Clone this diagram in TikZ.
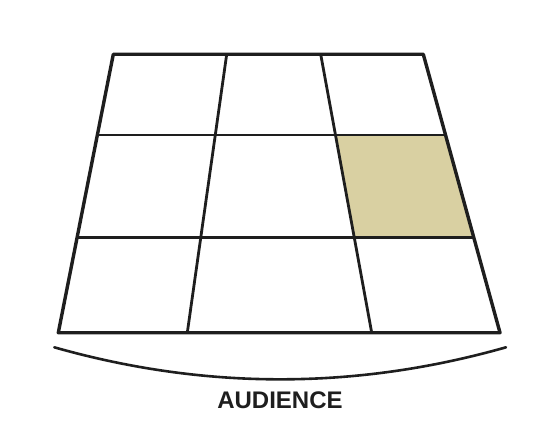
\documentclass[tikz,border=0pt]{standalone}
\usepackage{fontspec}
\setmainfont{Liberation Sans}
\usetikzlibrary{calc}
\definecolor{cellfill}{HTML}{D9D0A2}
\definecolor{ink}{HTML}{1E1E1E}
\tikzset{
  outer/.style={draw=ink, line width=3.4pt, line join=round},
  inner/.style={draw=ink, line width=2.8pt},
  arcline/.style={draw=ink, line width=2.6pt, line cap=round},
  label/.style={font=\bfseries\fontsize{24}{28}\selectfont, text=ink}
}
\begin{document}
\begin{tikzpicture}[x=1pt,y=-1pt]
\useasboundingbox (0,0) rectangle (548,441);
% top and bottom points of the column lines
\coordinate (t0) at (113.3,54.3);
\coordinate (t1) at (226.7,54.3);
\coordinate (t2) at (320.7,54.3);
\coordinate (t3) at (423.3,54.3);
\coordinate (b0) at (58.3,332.7);
\coordinate (b1) at (187.3,332.7);
\coordinate (b2) at (371.7,332.7);
\coordinate (b3) at (500,332.7);
% row line points
\foreach \i in {0,1,2,3}{
  \coordinate (m\i) at ($(t\i)!0.2899!(b\i)$);
  \coordinate (n\i) at ($(t\i)!0.6573!(b\i)$);
}
% highlighted cell
\fill[cellfill] (m2) -- (m3) -- (n3) -- (n2) -- cycle;
% inner grid lines
\draw[inner] (m0) -- (m3);
\draw[inner] (n0) -- (n3);
\draw[inner] (t1) -- (b1);
\draw[inner] (t2) -- (b2);
% outline
\draw[outer] (t0) -- (t3) -- (b3) -- (b0) -- cycle;
% audience arc
\coordinate (a1) at (54.3,347.3);
\coordinate (c1) at (204.8,390);
\coordinate (c2) at (355.5,390);
\coordinate (a2) at (506,347.3);
\draw[arcline] (a1) .. controls (c1) and (c2) .. (a2);
\node[label] (aud) at (280,400) {AUDIENCE};
\end{tikzpicture}
\end{document}
